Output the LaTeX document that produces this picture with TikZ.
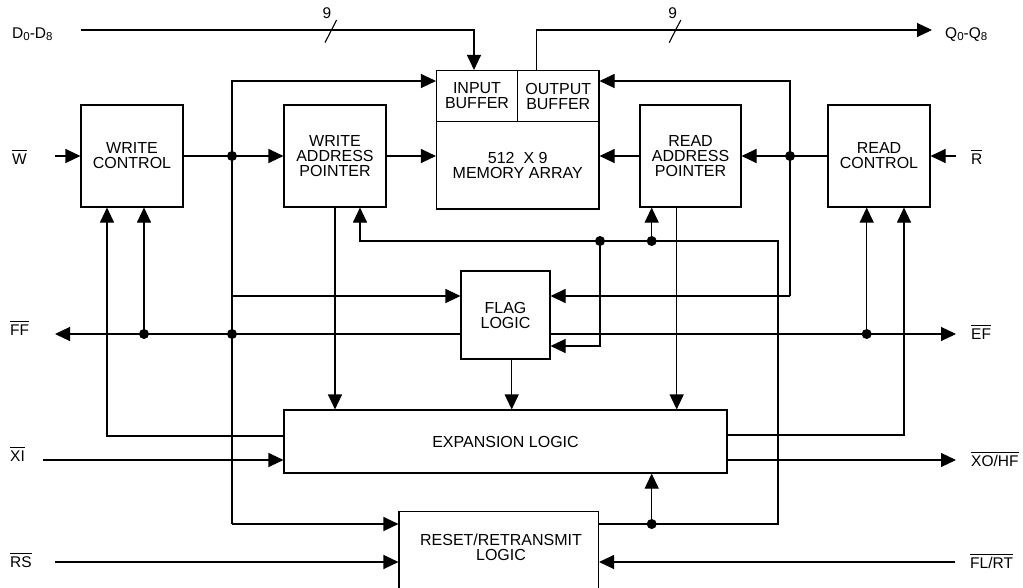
\documentclass[tikz,border=0pt]{standalone}
\usepackage{fontspec}
\setmainfont{Liberation Sans}
\usetikzlibrary{arrows.meta}
\newcommand\ovl[1]{\vbox{\hrule height 0.9pt\kern 2pt\hbox{#1}}}
\newcommand\subd[1]{\raisebox{-2.5pt}{\fontsize{11.5}{11.5}\selectfont #1}}
\tikzset{
  box/.style={draw, line width=1.1pt, inner sep=0pt, align=center, font=\fontsize{16}{15}\selectfont},
  boxtext/.style={inner sep=0pt, align=center, font=\fontsize{16}{15}\selectfont},
  lbl/.style={inner sep=0pt, anchor=base west, font=\fontsize{15.5}{15.5}\selectfont},
  wire/.style={line width=1.1pt},
  arr/.style={wire, -{Triangle[length=15pt,width=14pt]}},
}
\begin{document}
\begin{tikzpicture}[x=1pt,y=-1pt]
\useasboundingbox (0,0) rectangle (1023,587);
\clip (0,0) rectangle (1023,587);

% blocks
\node[box, minimum width=102pt, minimum height=102pt] (WC) at (132,156) {WRITE\\CONTROL};
\node[box, minimum width=102pt, minimum height=102pt] (WAP) at (335,156) {WRITE\\ADDRESS\\POINTER};
\node[box, minimum width=101pt, minimum height=102pt] (RAP) at (690.5,156) {READ\\ADDRESS\\POINTER};
\node[box, minimum width=102pt, minimum height=102pt] (RC) at (879,156) {READ\\CONTROL};
\node[box, minimum width=81pt, minimum height=51pt] (inbuf) at (477,96) {INPUT\\BUFFER};
\node[box, minimum width=81.5pt, minimum height=51pt] (outbuf) at (558.25,96) {OUTPUT\\BUFFER};
\node[box, minimum width=162.5pt, minimum height=87.5pt] (mem) at (517.75,165.25) {512\ \ X 9\\MEMORY ARRAY};
\node[box, minimum width=89pt, minimum height=88pt] (flag) at (505.5,315) {FLAG\\LOGIC};
\node[box, minimum width=443pt, minimum height=63pt] (exp) at (505.5,441.5) {EXPANSION LOGIC};
\node[box, minimum width=199.5pt, minimum height=80pt] (reset) at (498.75,551.7) {};
\node[boxtext] (resettxt) at (501,547.5) {RESET/RETRANSMIT\\LOGIC};

% side labels
\node[lbl] (lD) at (12,38) {D\subd{0}-D\subd{8}};
\node[lbl] (lQ) at (945,38) {Q\subd{0}-Q\subd{8}};
\node[lbl] (lW) at (12,164) {\ovl{W}};
\node[lbl] (lR) at (971,164) {\ovl{R}};
\node[lbl] (lFF) at (10,335) {\ovl{FF}};
\node[lbl] (lEF) at (971,339) {\ovl{EF}};
\node[lbl] (lXI) at (10,461) {\ovl{XI}};
\node[lbl] (lXO) at (971,466) {\ovl{XO/HF}};
\node[lbl] (lRS) at (10,567) {\ovl{RS}};
\node[lbl] (lFL) at (970,568) {\ovl{FL/RT}};

% coordinates
\coordinate (din) at (81,30);
\coordinate (dcor) at (474,30);
\coordinate (qout) at (932,30);
\coordinate (s1) at (330.8,31.3);
\coordinate (s2) at (675,31.3);
\coordinate (win) at (55,156);
\coordinate (rin) at (956,156);
\coordinate (j1) at (232,156);
\coordinate (j2) at (790,156);
\coordinate (bl1) at (232,81);
\coordinate (bl2) at (232,524);
\coordinate (bl3) at (232,296);
\coordinate (br1) at (790,81);
\coordinate (br3) at (790,296);
\coordinate (ffout) at (55,334);
\coordinate (efout) at (956,334);
\coordinate (j3) at (144,334);
\coordinate (j4) at (232,334);
\coordinate (j5) at (866.7,334);
\coordinate (m1) at (107,436);
\coordinate (n1) at (904,435);
\coordinate (xiin) at (43,460);
\coordinate (xoout) at (956,460);
\coordinate (rsin) at (55,562);
\coordinate (flin) at (955,562);
\coordinate (t1) at (511.7,0);
\coordinate (u1) at (676.7,0);
\coordinate (v1) at (778,524);
\coordinate (v2) at (778,241);
\coordinate (v3) at (360,241);
\coordinate (j6) at (600,241);
\coordinate (j7) at (651.7,241);
\coordinate (j8) at (651.7,524);
\coordinate (f2) at (600,346);

% data buses
\draw[arr] (din) -- (dcor) -- (dcor |- inbuf.north);
\draw[wire] (s1) ++(-5.8,11.3) -- ++(11.6,-22.6);
\node[font=\fontsize{15.5}{15.5}\selectfont, inner sep=0pt] (n9a) at (327,13) {9};
\draw[arr] ([xshift=-21.5pt]outbuf.north) |- (qout);
\draw[wire] (s2) ++(-5.8,11.3) -- ++(11.6,-22.6);
\node[font=\fontsize{15.5}{15.5}\selectfont, inner sep=0pt] (n9b) at (672.7,13) {9};

% control row
\draw[arr] (win) -- (WC.west);
\draw[arr] (WC.east) -- (WAP.west);
\draw[arr] (WAP.east) -- (WAP.east -| mem.west);
\draw[arr] (RC.west) -- (RAP.east);
\draw[arr] (RAP.west) -- (RAP.west -| mem.east);
\draw[arr] (rin) -- (RC.east);

% left bus
\draw[arr] (bl2) -- (bl1) -- (bl1 -| inbuf.west);
\draw[arr] (bl2) -- (bl2 -| reset.west);
\draw[arr] (bl3) -- (bl3 -| flag.west);
% right bus
\draw[arr] (br3) -- (br1) -- (br1 -| outbuf.east);
\draw[arr] (br3) -- (br3 -| flag.east);

% flags
\draw[arr] (flag.west |- ffout) -- (ffout);
\draw[arr] (j3) -- (j3 |- WC.south);
\draw[arr] (flag.east |- efout) -- (efout);
\draw[arr] (j5) -- (j5 |- RC.south);

% expansion
\draw[arr] (m1 -| exp.west) -- (m1) -- (m1 |- WC.south);
\draw[arr] (n1 -| exp.east) -- (n1) -- (n1 |- RC.south);
\draw[arr] (xiin) -- (xiin -| exp.west);
\draw[arr] (xoout -| exp.east) -- (xoout);
\draw[arr] (WAP.south) -- (WAP.south |- exp.north);
\draw[arr] (t1 |- flag.south) -- (t1 |- exp.north);
\draw[arr] (u1 |- RAP.south) -- (u1 |- exp.north);

% reset
\draw[arr] (rsin) -- (rsin -| reset.west);
\draw[arr] (flin) -- (flin -| reset.east);
\draw[arr] (v1 -| reset.east) -- (v1) -- (v2) -- (v3) -- (v3 |- WAP.south);
\draw[arr] (j6) -- (f2) -- (f2 -| flag.east);
\draw[arr] (j7) -- (j7 |- RAP.south);
\draw[arr] (j8) -- (j8 |- exp.south);

% dots
\foreach \d in {j1,j2,j3,j4,j5,j6,j7,j8}
  \fill (\d) circle[radius=5pt];
\end{tikzpicture}
\end{document}
